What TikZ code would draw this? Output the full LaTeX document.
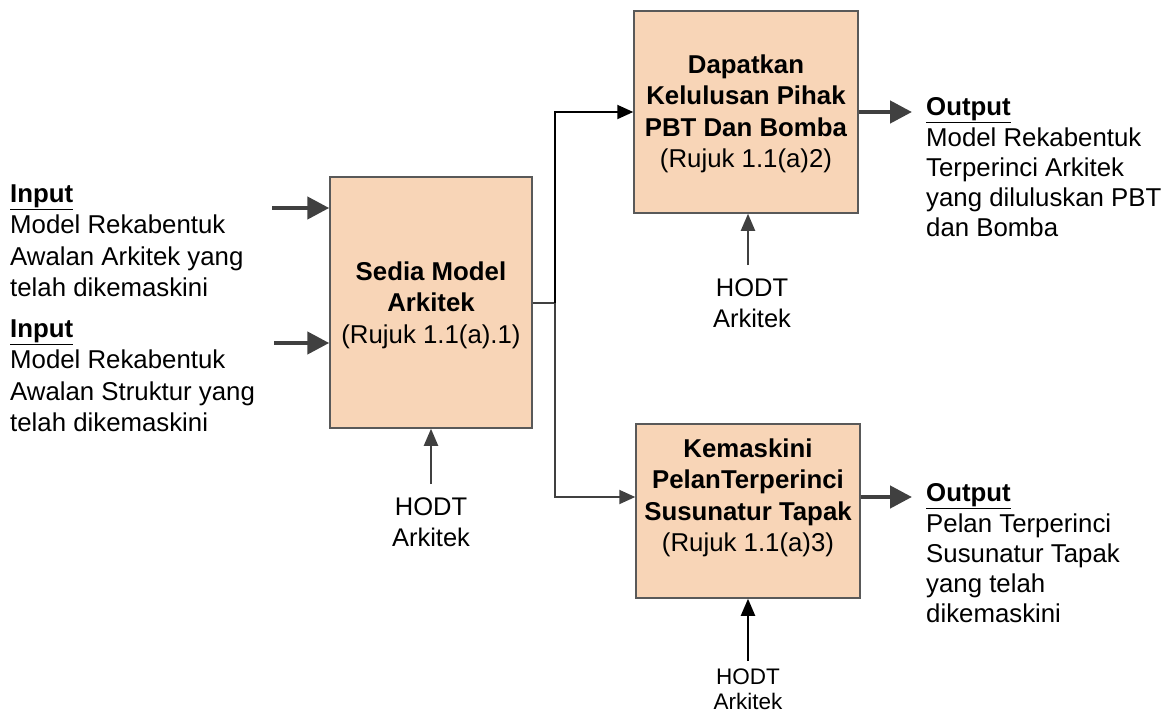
\documentclass[tikz,border=0pt]{standalone}
\usepackage{fontspec}
\setmainfont{Liberation Sans}
\usetikzlibrary{arrows.meta}
\definecolor{boxfill}{HTML}{F8D5B7}
\definecolor{boxline}{HTML}{595959}
\definecolor{arrowgray}{HTML}{404040}

\begin{document}
\begin{tikzpicture}[x=1pt,y=-1pt,
  procbox/.style={draw=boxline, line width=1.5pt, fill=boxfill, inner sep=0pt},
  boxtext/.style={anchor=north, align=center, inner sep=0pt, font=\fontsize{25.8}{31.5}\selectfont},
  sidetext/.style={anchor=north west, align=left, inner sep=0pt},
  hodt/.style={anchor=north, align=center, inner sep=0pt, font=\fontsize{25.5}{31}\selectfont},
  flowarrow/.style={draw=arrowgray, line width=4.5pt, -{Triangle[length=22pt,width=22pt]}},
  linkline/.style={line width=2pt},
  linkarrow/.style={line width=2pt, -{Triangle[length=16pt,width=14pt]}},
  ctrlarrow/.style={draw=arrowgray, line width=2pt, -{Triangle[length=17pt,width=14pt]}}]
\useasboundingbox (0,0) rectangle (1171,715);

% process boxes
\node[procbox, minimum width=202pt, minimum height=251pt] (box1) at (431,302.5) {};
\node[procbox, minimum width=224pt, minimum height=202pt] (box2) at (746,112) {};
\node[procbox, minimum width=224pt, minimum height=174pt] (box3) at (748,511) {};

% box captions
\node[boxtext] (t1) at (431,261.5) {\textbf{Sedia Model}\\\textbf{Arkitek}\\(Rujuk 1.1(a).1)};
\node[boxtext] (t2) at (746,54.5) {\textbf{Dapatkan}\\\textbf{Kelulusan Pihak}\\\textbf{PBT Dan Bomba}\\(Rujuk 1.1(a)2)};
\node[boxtext] (t3) at (748,438.5) {\textbf{Kemaskini}\\\textbf{PelanTerperinci}\\\textbf{Susunatur Tapak}\\(Rujuk 1.1(a)3)};

% inputs
\node[sidetext, font=\fontsize{25.8}{31.3}\selectfont] (in1) at (10,184.5)
  {\underline{\textbf{Input}}\\Model Rekabentuk\\Awalan Arkitek yang\\telah dikemaskini};
\node[sidetext, font=\fontsize{25.8}{31.3}\selectfont] (in2) at (10,319.5)
  {\underline{\textbf{Input}}\\Model Rekabentuk\\Awalan Struktur yang\\telah dikemaskini};

% outputs
\node[sidetext, font=\fontsize{25.8}{30.3}\selectfont] (out1) at (926,97.5)
  {\underline{\textbf{Output}}\\Model Rekabentuk\\Terperinci Arkitek\\yang diluluskan PBT\\dan Bomba};
\node[sidetext, font=\fontsize{25.8}{30.3}\selectfont] (out2) at (926,483.5)
  {\underline{\textbf{Output}}\\Pelan Terperinci\\Susunatur Tapak\\yang telah\\dikemaskini};

% controls
\node[hodt] (h1) at (431,497) {HODT\\Arkitek};
\node[hodt] (h2) at (752,278) {HODT\\Arkitek};
\node[hodt, font=\fontsize{22.5}{25}\selectfont] (h3) at (748,669) {HODT\\Arkitek};

% arrow start points and routing points
\coordinate (a1) at (272,208);
\coordinate (a2) at (274,343);
\coordinate (o1) at (912,112);
\coordinate (o2) at (912,497);
\coordinate (c1) at (431,484);
\coordinate (c2) at (748,265);
\coordinate (c3) at (748,661);
\coordinate (j) at (555,303);
\coordinate (lo) at (0,497);

% input and output arrows
\draw[flowarrow] (a1) -- (a1 -| box1.west);
\draw[flowarrow] (a2) -- (a2 -| box1.west);
\draw[flowarrow] (box2.east |- o1) -- (o1);
\draw[flowarrow] (box3.east |- o2) -- (o2);

% link from the first box to the two following boxes
\draw[linkline, draw=arrowgray] (box1.east |- j) -- (j);
\draw[linkarrow, draw=black] (j) |- (box2.west);
\draw[linkarrow, draw=arrowgray] (j) |- (box3.west |- lo);

% control arrows
\draw[ctrlarrow] (c1) -- (box1.south);
\draw[ctrlarrow] (c2) -- (c2 |- box2.south);
\draw[ctrlarrow, draw=black] (c3) -- (box3.south);
\end{tikzpicture}
\end{document}
